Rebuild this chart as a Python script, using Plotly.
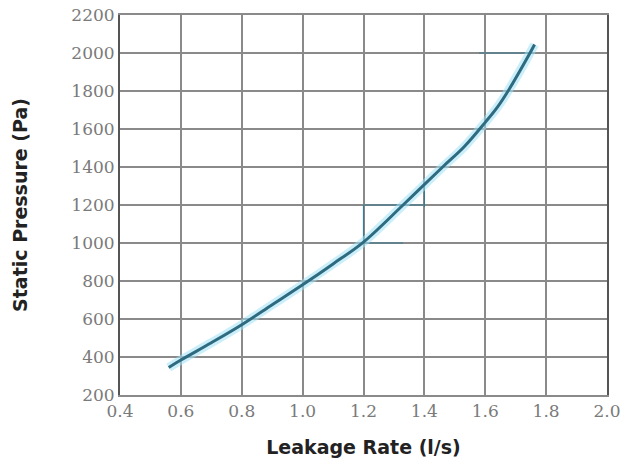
import plotly.graph_objects as go

# Data
leak_rate = [0.56, 0.6, 0.7, 0.8, 0.9, 1.0, 1.1, 1.2, 1.33, 1.46, 1.53, 1.6, 1.64, 1.675, 1.747, 1.762]
pressure = [345, 384, 475, 570, 675, 780, 890, 1005, 1200, 1400, 1505, 1635, 1715, 1800, 2000, 2045]

# thin guide segments drawn on the chart (None separates segments)
guide_x = [1.2, 1.4, None, 1.2, 1.2, None, 1.2, 1.33, None, 1.4, 1.4, None, 1.58, 1.76]
guide_y = [1200, 1200, None, 1000, 1200, None, 1000, 1000, None, 1190, 1320, None, 2000, 2000]

x_ticks = [0.4, 0.6, 0.8, 1.0, 1.2, 1.4, 1.6, 1.8, 2.0]
y_ticks = [200, 400, 600, 800, 1000, 1200, 1400, 1600, 1800, 2000, 2200]

fig = go.Figure()
fig.add_trace(go.Scatter(x=guide_x, y=guide_y, mode="lines",
                         line=dict(color="#3b7a90", width=1.2), hoverinfo="skip"))
fig.add_trace(go.Scatter(x=leak_rate, y=pressure, mode="lines", line_shape="spline",
                         line=dict(color="rgba(160,225,245,0.55)", width=9, smoothing=1),
                         hoverinfo="skip"))
fig.add_trace(go.Scatter(x=leak_rate, y=pressure, mode="lines", line_shape="spline",
                         line=dict(color="#2e6b80", width=3, smoothing=1)))

tick_font = dict(family="DejaVu Serif", size=17, color="#7a7a7a")
title_font = dict(family="DejaVu Sans", size=19, color="#222222")

fig.update_layout(
    width=625, height=463,
    margin=dict(l=120, r=18, t=15, b=68, autoexpand=False),
    paper_bgcolor="white", plot_bgcolor="white",
    showlegend=False,
    xaxis=dict(range=[0.4, 2.0], tickvals=x_ticks, ticktext=[f"{v:.1f}" for v in x_ticks],
               showgrid=True, gridcolor="#8a8a8a", gridwidth=2, automargin=False,
               showline=True, linecolor="#8a8a8a", linewidth=2, mirror=True,
               zeroline=False, ticks="", tickfont=tick_font,
               title=dict(text="<b>Leakage Rate (l/s)</b>", font=title_font, standoff=20)),
    yaxis=dict(range=[200, 2200], tickvals=y_ticks, ticktext=[str(v) for v in y_ticks],
               showgrid=True, gridcolor="#8a8a8a", gridwidth=2, automargin=False,
               showline=True, linecolor="#555555", linewidth=2, mirror=True,
               zeroline=False, ticks="", tickfont=tick_font,
               title=dict(text="<b>Static Pressure (Pa)</b>", font=title_font, standoff=39)),
)

fig.write_html("out.html")
